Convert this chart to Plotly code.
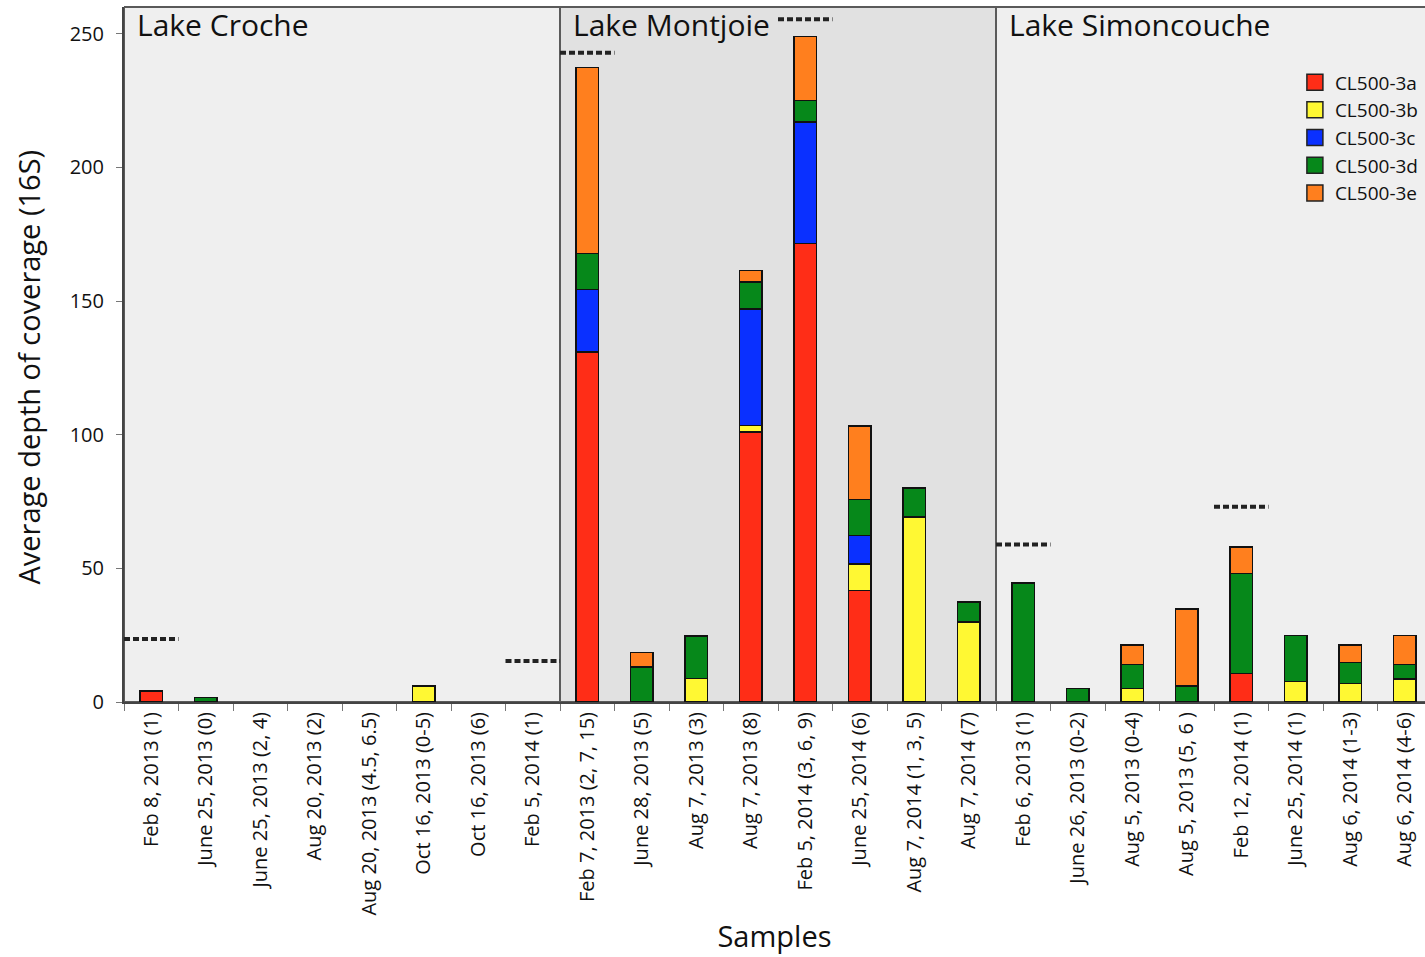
import plotly.graph_objects as go

# Sample labels, grouped by lake (8 samples per lake)
lakes = ["Lake Croche", "Lake Montjoie", "Lake Simoncouche"]
samples = [
    "Feb 8, 2013 (1)", "June 25, 2013 (0)", "June 25, 2013 (2, 4)", "Aug 20, 2013 (2)",
    "Aug 20, 2013 (4.5, 6.5)", "Oct 16, 2013 (0-5)", "Oct 16, 2013 (6)", "Feb 5, 2014 (1)",
    "Feb 7, 2013 (2, 7, 15)", "June 28, 2013 (5)", "Aug 7, 2013 (3)", "Aug 7, 2013 (8)",
    "Feb 5, 2014 (3, 6, 9)", "June 25, 2014 (6)", "Aug 7, 2014 (1, 3, 5)", "Aug 7, 2014 (7)",
    "Feb 6, 2013 (1)", "June 26, 2013 (0-2)", "Aug 5, 2013 (0-4)", "Aug 5, 2013 (5, 6 )",
    "Feb 12, 2014 (1)", "June 25, 2014 (1)", "Aug 6, 2014 (1-3)", "Aug 6, 2014 (4-6)",
]

# Average depth of coverage (16S) per population; None = not detected
cl500_3a = [4.1, None, None, None, None, None, None, None,
            131.0, None, None, 101.0, 171.5, 41.8, None, None,
            None, None, None, None, 10.6, None, None, None]
cl500_3b = [None, None, None, None, None, 6.0, None, None,
            None, None, 8.7, 2.5, None, 9.9, 69.3, 30.0,
            None, None, 5.0, None, None, 7.6, 7.0, 8.6]
cl500_3c = [None, None, None, None, None, None, None, None,
            23.4, None, None, 43.6, 45.5, 10.6, None, None,
            None, None, None, None, None, None, None, None]
cl500_3d = [None, 1.6, None, None, None, None, None, None,
            13.4, 13.1, 16.0, 10.0, 8.1, 13.5, 10.8, 7.4,
            44.5, 5.1, 9.1, 5.9, 37.4, 17.2, 7.7, 5.5]
cl500_3e = [None, None, None, None, None, None, None, None,
            69.5, 5.4, None, 4.4, 23.8, 27.5, None, None,
            None, None, 7.2, 28.8, 9.9, None, 6.6, 10.7]

# Dotted reference levels: (sample index, depth)
ref_index = [0, 7, 8, 12, 16, 20]
ref_depth = [23.6, 15.3, 242.9, 255.4, 58.9, 73.0]

series = [
    ("CL500-3a", cl500_3a, "#ff2d17"),
    ("CL500-3b", cl500_3b, "#fff833"),
    ("CL500-3c", cl500_3c, "#0a30ff"),
    ("CL500-3d", cl500_3d, "#06881a"),
    ("CL500-3e", cl500_3e, "#ff7f1e"),
]

FONT = "Open Sans"

fig = go.Figure()
for name, vals, color in series:
    fig.add_trace(go.Bar(
        x=samples, y=vals, name=name, showlegend=False,
        marker=dict(color=color, line=dict(color="#111111", width=1.5)),
        width=0.42,
    ))
# Legend entries drawn as outlined squares
for name, vals, color in series:
    fig.add_trace(go.Scatter(
        x=[None], y=[None], mode="markers", name=name,
        marker=dict(symbol="square", size=16, color=color,
                    line=dict(color="#222222", width=1.5)),
    ))

panel_fill = ["#efefef", "#e1e1e1", "#efefef"]
shapes = []
annotations = []
for k, lake in enumerate(lakes):
    shapes.append(dict(
        type="rect", xref="x", yref="paper",
        x0=-0.5 + 8 * k, x1=7.5 + 8 * k, y0=0, y1=1,
        fillcolor=panel_fill[k], line=dict(color="#5a5a5a", width=2),
        layer="below",
    ))
    annotations.append(dict(
        text=lake, xref="x", yref="paper", x=-0.5 + 8 * k, y=1,
        xanchor="left", yanchor="top", xshift=11, yshift=5, showarrow=False,
        font=dict(family=FONT, size=30, color="#111111"),
    ))

# Y-axis title
annotations.append(dict(
    text="Average depth of coverage (16S)", textangle=-90,
    xref="paper", yref="paper", x=0, y=0.5, xanchor="center", yanchor="middle",
    xshift=-96, yshift=-13, showarrow=False,
    font=dict(family=FONT, size=29, color="#111111"),
))

for idx, depth in zip(ref_index, ref_depth):
    shapes.append(dict(
        type="line", xref="x", yref="y",
        x0=idx - 0.5, x1=idx + 0.5, y0=depth, y1=depth,
        line=dict(color="#222222", width=4, dash="6px,3px"),
        layer="above",
    ))

fig.update_layout(
    width=1425, height=957,
    margin=dict(l=124, r=0, t=7, b=255),
    barmode="stack",
    paper_bgcolor="white", plot_bgcolor="white",
    font=dict(family=FONT, color="#111111"),
    shapes=shapes,
    annotations=annotations,
    legend=dict(
        x=0.9, y=0.919, xanchor="left", yanchor="top",
        traceorder="normal", bgcolor="rgba(0,0,0,0)",
        font=dict(family=FONT, size=19, color="#111111"),
        itemwidth=30, tracegroupgap=0,
    ),
)

fig.update_xaxes(
    type="category", categoryorder="array", categoryarray=samples,
    range=[-0.5, -0.5 + 1301 / 54.5],
    tickson="boundaries", ticks="outside", ticklen=7, tickcolor="#777777",
    tickangle=-90, tickfont=dict(family=FONT, size=20, color="#111111"),
    showline=True, linecolor="#444444", linewidth=2,
    showgrid=False, zeroline=False,
    title=dict(text="Samples", font=dict(family=FONT, size=29, color="#111111"), standoff=12),
)
fig.update_yaxes(
    range=[0, 260], tickvals=[0, 50, 100, 150, 200, 250],
    ticks="outside", ticklen=6, tickcolor="#777777",
    tickfont=dict(family=FONT, size=20, color="#111111"),
    ticklabelstandoff=8,
    showline=True, linecolor="#444444", linewidth=2,
    showgrid=False, zeroline=False,
)

fig.write_html("out.html")
